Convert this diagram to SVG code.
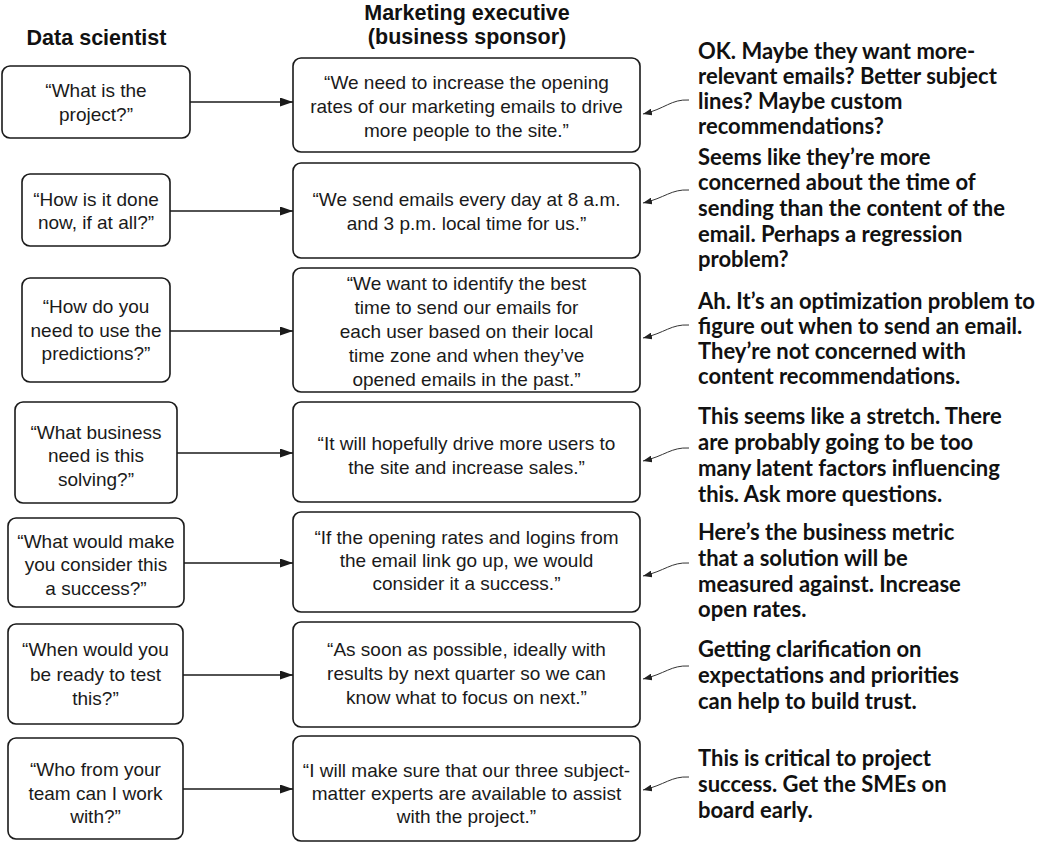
<svg xmlns="http://www.w3.org/2000/svg" width="1044" height="844" viewBox="0 0 1044 844">
<defs>
<style>
.box{fill:#fff;stroke:#1a1a1a;stroke-width:1.6}
.t{font-family:"Liberation Sans",Arial,sans-serif;font-size:19px;fill:#1a1a1a;text-anchor:middle}
.h{font-family:"Liberation Sans",Arial,sans-serif;font-size:21.5px;font-weight:bold;fill:#111;text-anchor:middle}
.n{font-family:Lato,"Open Sans",sans-serif;font-size:22px;font-weight:700;fill:#111}
.c{fill:none;stroke:#1a1a1a;stroke-width:1.6}
.cn{fill:none;stroke:#333;stroke-width:1}
</style>
<marker id="ah" markerUnits="userSpaceOnUse" markerWidth="13" markerHeight="9" refX="13" refY="4.5" orient="auto"><path d="M0,0 L13,4.5 L0,9 z" fill="#1a1a1a"/></marker>
<marker id="as" markerUnits="userSpaceOnUse" markerWidth="9" markerHeight="7" refX="9" refY="3.5" orient="auto"><path d="M0,0 L9,3.5 L0,7 z" fill="#222"/></marker>
</defs>
<rect width="1044" height="844" fill="#fff"/>

<g id="headers">
<text class="h" x="96.5" y="45">Data scientist</text>
<text class="h" x="467" y="20">Marketing executive</text>
<text class="h" x="467" y="44">(business sponsor)</text>
</g>

<g id="q1"><rect class="box" x="2" y="66" width="188" height="72" rx="8"/>
<text class="t" x="96" y="97">“What is the</text><text class="t" x="96" y="121">project?”</text></g>
<g id="q2"><rect class="box" x="22" y="174" width="148" height="72" rx="8"/>
<text class="t" x="96" y="206">“How is it done</text><text class="t" x="96" y="229">now, if at all?”</text></g>
<g id="q3"><rect class="box" x="22" y="278" width="148" height="104" rx="8"/>
<text class="t" x="96" y="313">“How do you</text><text class="t" x="96" y="337">need to use the</text><text class="t" x="96" y="360">predictions?”</text></g>
<g id="q4"><rect class="box" x="15" y="402" width="162" height="101" rx="8"/>
<text class="t" x="96" y="439">“What business</text><text class="t" x="96" y="462">need is this</text><text class="t" x="96" y="486">solving?”</text></g>
<g id="q5"><rect class="box" x="8" y="518" width="176" height="89" rx="8"/>
<text class="t" x="96" y="548">“What would make</text><text class="t" x="96" y="571">you consider this</text><text class="t" x="96" y="595">a success?”</text></g>
<g id="q6"><rect class="box" x="8" y="624" width="175" height="100" rx="8"/>
<text class="t" x="95.5" y="656">“When would you</text><text class="t" x="95.5" y="681">be ready to test</text><text class="t" x="95.5" y="705">this?”</text></g>
<g id="q7"><rect class="box" x="8" y="738" width="175" height="101" rx="8"/>
<text class="t" x="95.5" y="776">“Who from your</text><text class="t" x="95.5" y="800">team can I work</text><text class="t" x="95.5" y="823">with?”</text></g>

<g id="a1"><rect class="box" x="293" y="58" width="347" height="94" rx="8"/>
<text class="t" x="466.5" y="89">“We need to increase the opening</text><text class="t" x="466.5" y="113">rates of our marketing emails to drive</text><text class="t" x="466.5" y="137">more people to the site.”</text></g>
<g id="a2"><rect class="box" x="293" y="163" width="347" height="95" rx="8"/>
<text class="t" x="466.5" y="206">“We send emails every day at 8 a.m.</text><text class="t" x="466.5" y="230">and 3 p.m. local time for us.”</text></g>
<g id="a3"><rect class="box" x="293" y="268" width="347" height="124" rx="8"/>
<text class="t" x="466.5" y="290">“We want to identify the best</text><text class="t" x="466.5" y="314">time to send our emails for</text><text class="t" x="466.5" y="338">each user based on their local</text><text class="t" x="466.5" y="362">time zone and when they’ve</text><text class="t" x="466.5" y="386">opened emails in the past.”</text></g>
<g id="a4"><rect class="box" x="293" y="402" width="347" height="100" rx="8"/>
<text class="t" x="466.5" y="450">“It will hopefully drive more users to</text><text class="t" x="466.5" y="474">the site and increase sales.”</text></g>
<g id="a5"><rect class="box" x="293" y="512" width="347" height="100" rx="8"/>
<text class="t" x="466.5" y="544">“If the opening rates and logins from</text><text class="t" x="466.5" y="567">the email link go up, we would</text><text class="t" x="466.5" y="590">consider it a success.”</text></g>
<g id="a6"><rect class="box" x="293" y="622" width="347" height="105" rx="8"/>
<text class="t" x="466.5" y="656">“As soon as possible, ideally with</text><text class="t" x="466.5" y="680">results by next quarter so we can</text><text class="t" x="466.5" y="704">know what to focus on next.”</text></g>
<g id="a7"><rect class="box" x="293" y="736" width="347" height="105" rx="8"/>
<text class="t" x="466.5" y="777">“I will make sure that our three subject-</text><text class="t" x="466.5" y="800">matter experts are available to assist</text><text class="t" x="466.5" y="823">with the project.”</text></g>

<g id="n1"><text class="n" x="698" y="59">OK. Maybe they want more-</text><text class="n" x="698" y="84">relevant emails? Better subject</text><text class="n" x="698" y="109">lines? Maybe custom</text><text class="n" x="698" y="134">recommendations?</text></g>
<g id="n2"><text class="n" x="698" y="165">Seems like they’re more</text><text class="n" x="698" y="190">concerned about the time of</text><text class="n" x="698" y="216">sending than the content of the</text><text class="n" x="698" y="242">email. Perhaps a regression</text><text class="n" x="698" y="267">problem?</text></g>
<g id="n3"><text class="n" x="698" y="309">Ah. It’s an optimization problem to</text><text class="n" x="698" y="334">figure out when to send an email.</text><text class="n" x="698" y="359">They’re not concerned with</text><text class="n" x="698" y="384">content recommendations.</text></g>
<g id="n4"><text class="n" x="698" y="424">This seems like a stretch. There</text><text class="n" x="698" y="450">are probably going to be too</text><text class="n" x="698" y="476">many latent factors influencing</text><text class="n" x="698" y="502">this. Ask more questions.</text></g>
<g id="n5"><text class="n" x="698" y="540">Here’s the business metric</text><text class="n" x="698" y="566">that a solution will be</text><text class="n" x="698" y="592">measured against. Increase</text><text class="n" x="698" y="617">open rates.</text></g>
<g id="n6"><text class="n" x="698" y="657">Getting clarification on</text><text class="n" x="698" y="683">expectations and priorities</text><text class="n" x="698" y="709">can help to build trust.</text></g>
<g id="n7"><text class="n" x="698" y="766">This is critical to project</text><text class="n" x="698" y="792">success. Get the SMEs on</text><text class="n" x="698" y="818">board early.</text></g>

<g id="connectors">
<path class="c" marker-end="url(#ah)" d="M190,102 H293"/>
<path class="c" marker-end="url(#ah)" d="M170,211 H293"/>
<path class="c" marker-end="url(#ah)" d="M170,331 H293"/>
<path class="c" marker-end="url(#ah)" d="M177,453 H293"/>
<path class="c" marker-end="url(#ah)" d="M184,563 H293"/>
<path class="c" marker-end="url(#ah)" d="M183,675 H293"/>
<path class="c" marker-end="url(#ah)" d="M183,789 H293"/>
<path class="cn" marker-end="url(#as)" d="M689,100 C671,99 665,109 643,114"/>
<path class="cn" marker-end="url(#as)" d="M689,190 C671,189 665,198 643,203"/>
<path class="cn" marker-end="url(#as)" d="M689,325 C671,324 665,333 643,338"/>
<path class="cn" marker-end="url(#as)" d="M689,448 C671,447 665,456 643,461"/>
<path class="cn" marker-end="url(#as)" d="M689,563 C671,562 665,571 643,576"/>
<path class="cn" marker-end="url(#as)" d="M689,666 C671,665 665,674 643,679"/>
<path class="cn" marker-end="url(#as)" d="M689,777 C671,776 665,785 643,790"/>
</g>
</svg>
